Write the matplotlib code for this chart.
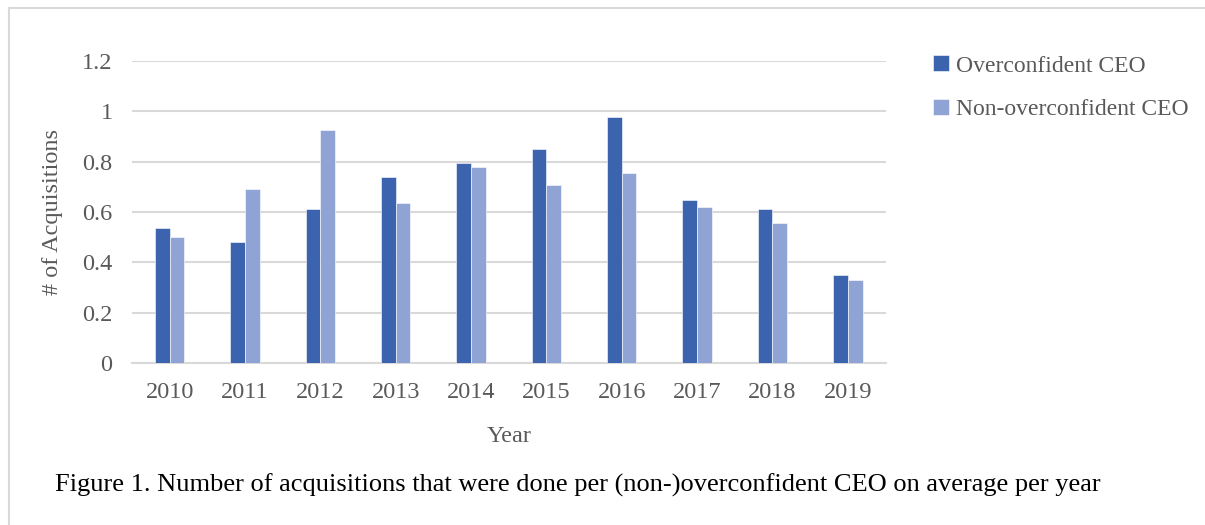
import numpy as np
import matplotlib.pyplot as plt
from matplotlib.lines import Line2D

years = ['2010', '2011', '2012', '2013', '2014', '2015', '2016', '2017', '2018', '2019']
overconfident = [0.536, 0.48, 0.611, 0.74, 0.796, 0.849, 0.979, 0.648, 0.611, 0.351]
non_overconfident = [0.5, 0.693, 0.926, 0.637, 0.78, 0.708, 0.756, 0.62, 0.555, 0.33]

dark = '#3c64ae'
light = '#8fa4d4'
grey_txt = '#595959'
grid_c = '#d9d9d9'

plt.rcParams['font.family'] = ['Liberation Serif', 'DejaVu Serif']

W, H = 1205, 525
fig = plt.figure(figsize=(W / 100, H / 100), dpi=100)

# outer frame (only left and top edges visible)
fig.add_artist(Line2D([8.5 / W, 8.5 / W], [0, 1 - 7.5 / H], transform=fig.transFigure,
                      color=grid_c, lw=1.5))
fig.add_artist(Line2D([8.5 / W, 1], [1 - 7.5 / H, 1 - 7.5 / H], transform=fig.transFigure,
                      color=grid_c, lw=1.5))

ax = fig.add_axes([132 / W, 1 - 363 / H, 753.5 / W, (363 - 61) / H])
x = np.arange(len(years))
bw = 0.195
ax.bar(x - bw / 2, overconfident, bw, color=dark, edgecolor='white', linewidth=0.4,
       label='Overconfident CEO', zorder=3)
ax.bar(x + bw / 2, non_overconfident, bw, color=light, edgecolor='white', linewidth=0.4,
       label='Non-overconfident CEO', zorder=3)

ax.set_xlim(-0.5, len(years) - 0.5)
ax.set_ylim(0, 1.2)
ax.set_yticks([0, 0.2, 0.4, 0.6, 0.8, 1.0, 1.2])
ax.set_yticklabels(['0', '0.2', '0.4', '0.6', '0.8', '1', '1.2'])
ax.set_xticks(x)
ax.set_xticklabels(years)
ax.grid(axis='y', color=grid_c, lw=1.5, zorder=0)
for s in ['top', 'right', 'left']:
    ax.spines[s].set_visible(False)
ax.spines['bottom'].set_color(grid_c)
ax.spines['bottom'].set_linewidth(1.5)
ax.tick_params(axis='both', length=0, labelsize=17.5, labelcolor=grey_txt)
ax.tick_params(axis='y', pad=14)
ax.tick_params(axis='x', pad=14)

ax.set_ylabel('# of Acquisitions', fontsize=17.5, color=grey_txt, labelpad=14)
ax.set_xlabel('Year', fontsize=17.5, color=grey_txt, labelpad=16)

fig.legend(loc='upper left', bbox_to_anchor=(924 / W, 1 - 46 / H), frameon=False,
           fontsize=17, handlelength=0.65, handleheight=0.65, handletextpad=0.3,
           labelspacing=0.95, labelcolor=grey_txt, borderaxespad=0)

fig.text(55 / W, 1 - 485 / H,
         'Figure 1. Number of acquisitions that were done per (non-)overconfident CEO on average per year',
         fontsize=19, color='black', va='center', ha='left')

fig.savefig('out.png', dpi=100)
